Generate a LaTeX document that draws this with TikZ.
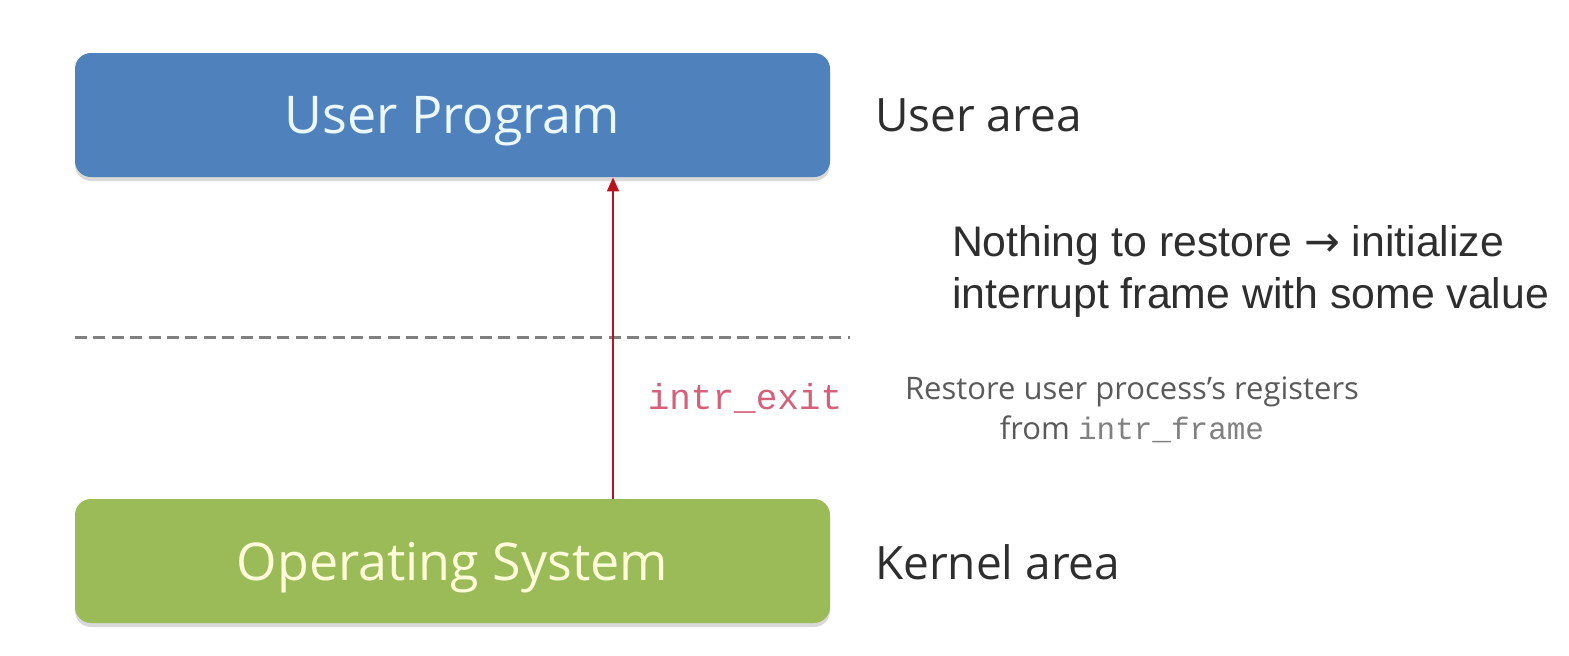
\documentclass[tikz,border=0pt]{standalone}
\usepackage{fontspec}
\setmainfont{Open Sans}
\newfontfamily\arialfont{Liberation Sans}
\newfontfamily\monofont{Liberation Mono}
\newfontfamily\arrowfont{DejaVu Sans}
\usepackage{tikz}
\usetikzlibrary{arrows.meta}
\usetikzlibrary{positioning,shadows}

\definecolor{userblue}{HTML}{4F81BD}
\definecolor{osgreen}{HTML}{9BBB59}
\definecolor{exitred}{HTML}{B8141E}
\definecolor{exitpink}{HTML}{D4607A}
\definecolor{notegray}{HTML}{5A5A5A}
\definecolor{labeldark}{HTML}{2E2E2E}

\tikzset{
  layerbox/.style={rounded corners=8pt, minimum width=377.5pt, minimum height=62pt,
    text depth=0pt, font=\fontsize{26}{30}\selectfont,
    drop shadow={shadow xshift=0pt, shadow yshift=-2pt, opacity=0.3}},
  arealabel/.style={anchor=west, text=labeldark, font=\fontsize{23}{27}\selectfont},
}

\begin{document}
\begin{tikzpicture}[x=0.5pt,y=-0.5pt]
        \useasboundingbox (0,0) rectangle (1569,655);
        \node[layerbox, fill=userblue, text=white!92!cyan] (user) at (452.5,115) {User Program};
        \node[layerbox, fill=osgreen, text=white!85!yellow] (os) at (452.5,561) {Operating System};
        \node[arealabel] (userarea) at (868,115) {User area};
        \node[arealabel] (kernelarea) at (868,562) {Kernel area};
        % boundary between the two areas
        \coordinate (split l) at (75,337);
        \coordinate (split r) at (850,337);
        \draw[gray, line width=1.5pt, dash pattern=on 6pt off 3.2pt] (split l) -- (split r);
        % return to user mode
        \draw[exitred, line width=0.9pt, -{Triangle[length=7pt,width=6pt]}]
            (os.north -| 613,0) -- (user.south -| 613,0);
        \node[exitpink, font=\monofont\fontsize{18}{20}\selectfont] (exit) at (745,398) {intr\_exit};
        \node[notegray, align=center, font=\fontsize{15.5}{20}\selectfont] (restore) at (1132,410)
            {Restore user process's registers\\from {\monofont\color{gray}intr\_frame}};
        \node[anchor=west, align=left, text=labeldark, font=\arialfont\fontsize{21.4}{26}\selectfont] (nothing) at (945,271)
            {Nothing to restore {\arrowfont →} initialize\\interrupt frame with some value};
\end{tikzpicture}
\end{document}
